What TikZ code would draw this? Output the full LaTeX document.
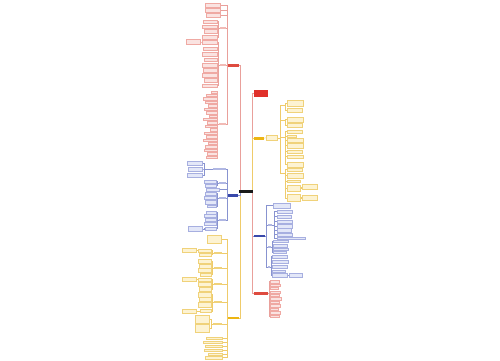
\documentclass[tikz,border=0pt]{standalone}
\definecolor{redM}{HTML}{DE4B3F}
\definecolor{redT}{HTML}{E0302A}
\definecolor{redL}{HTML}{E9A09B}
\definecolor{redB}{HTML}{EFA9A3}
\definecolor{redF}{HTML}{FAE3E1}
\definecolor{bluM}{HTML}{3949AB}
\definecolor{bluL}{HTML}{8893D0}
\definecolor{bluB}{HTML}{A7AFE0}
\definecolor{bluF}{HTML}{E3E7F8}
\definecolor{yelM}{HTML}{EDB512}
\definecolor{yelL}{HTML}{EFCB6A}
\definecolor{yelB}{HTML}{F0D27A}
\definecolor{yelF}{HTML}{FDF3D2}
\pgfdeclarelayer{bg}
\pgfsetlayers{bg,main}
\newcommand\lf[6]{\node[#2,minimum width={(#4-#3)*1pt},minimum height={(#6)*1pt}] (#1) at ({(#3+#4)/2},#5) {};}
\newcommand\conL[4]{\begin{pgfonlayer}{bg}\draw[#1] (#2.west) -- ++(-#4,0) |- (#3.east);\end{pgfonlayer}}
\newcommand\conR[4]{\begin{pgfonlayer}{bg}\draw[#1] (#2.east) -- ++(#4,0) |- (#3.west);\end{pgfonlayer}}
% parent, prefix, style, line, xr, gap, list y/h/xl
\newcommand\grpL[7]{\foreach \yy/\hh/\xl [count=\k] in {#7} {\lf{#2\k}{#3}{\xl}{#5}{\yy}{\hh}\conL{#4}{#1}{#2\k}{#6}}}
% parent, prefix, style, line, xl, gap, list y/h/xr
\newcommand\grpR[7]{\foreach \yy/\hh/\xr [count=\k] in {#7} {\lf{#2\k}{#3}{#5}{\xr}{\yy}{\hh}\conR{#4}{#1}{#2\k}{#6}}}
\begin{document}
\begin{tikzpicture}[x=1pt,y=-1pt,
  box/.style={rectangle,inner sep=0pt,outer sep=0pt,line width=0.25pt},
  lfR/.style={box,draw=redB,fill=redF},
  lfB/.style={box,draw=bluB,fill=bluF},
  lfY/.style={box,draw=yelB,fill=yelF},
  subR/.style={box,fill=redB!80},
  subB/.style={box,fill=bluB!90},
  subY/.style={box,fill=yelB},
  mnR/.style={box,fill=redM},
  mnB/.style={box,fill=bluM},
  mnY/.style={box,fill=yelM},
  lnR/.style={draw=redL,line width=0.35pt},
  lnB/.style={draw=bluL,line width=0.35pt},
  lnY/.style={draw=yelL,line width=0.35pt},
  trR/.style={draw=redL,line width=0.7pt},
  trB/.style={draw=bluL,line width=0.7pt},
  trY/.style={draw=yelL,line width=0.7pt}]
\begin{pgfonlayer}{bg}
\fill[white] (0,0) rectangle (500,360);
\end{pgfonlayer}
\useasboundingbox (0,0) rectangle (500,360);
% ---- main nodes
\node[box,fill=black!90,minimum width=14pt,minimum height=3.5pt] (C) at (246,191.5) {};
\node[box,fill=redT,minimum width=14pt,minimum height=7pt] (T) at (261,93.5) {};
\lf{L1}{mnR}{228}{239}{65.7}{3}
\lf{L2}{mnB}{228}{238}{195.2}{2.8}
\lf{L3}{mnY}{228}{239}{318}{2.6}
\lf{R1}{mnY}{254}{264}{138.2}{2.8}
\lf{R1a}{lfY}{266}{277}{137.8}{4.5}
\lf{R2}{mnB}{254}{265}{236}{2.5}
\lf{R3}{mnR}{254}{268}{293.5}{2.5}
\begin{pgfonlayer}{bg}
\draw[trR] ([xshift=1pt]C.west) |- (L1.east);
\draw[trY] ([xshift=1pt]C.west) |- (L3.east);
\draw[trB] ([xshift=1pt]C.west) |- (L2.east);
\draw[trR] ([xshift=-1pt]C.east) |- (T.west);
\draw[trY] ([xshift=-1pt]C.east) |- (R1.west);
\draw[trB] ([xshift=-1pt]C.east) |- (R2.west);
\draw[trR] ([xshift=-1pt]C.east) |- (R3.west);
\draw[lnY] (R1.east) -- (R1a.west);
\end{pgfonlayer}
% ---- L1 (red, left)
\grpL{L1}{rA}{lfR}{lnR}{220}{1}{5/4.5/205, 10/4.5/205, 15.5/4/206}
\lf{sB}{subR}{220}{226}{28}{1.6}\conL{lnR}{L1}{sB}{1}
\grpL{sB}{rB}{lfR}{lnR}{217}{1.5}{21.5/3/203, 26.5/3/202, 31/3.5/204, 37/3.5/202}
\lf{sC}{subR}{220}{226}{65}{1.6}\conL{lnR}{L1}{sC}{1}
\grpL{sC}{rC}{lfR}{lnR}{217}{1.5}{42/4/202, 48.5/3.5/203, 54/3.5/202, 59.5/3.5/204, 65/3.5/202, 70/3.5/203, 75/3.5/202, 80/3.5/204, 85.5/3.5/202}
\lf{rCx}{lfR}{186}{200}{42}{5}\conL{lnR}{rC1}{rCx}{1}
\lf{sD}{subR}{219}{226}{124}{1.6}\conL{lnR}{L1}{sD}{1}
\grpL{sD}{rD}{lfR}{lnR}{217}{1.5}{92/2.4/211, 95.4/2.4/206, 98.8/2.4/203, 102.3/2.4/205, 105.7/2.4/208, 109.1/2.4/204, 112.5/2.4/206, 115.9/2.4/209, 119.4/2.4/203, 122.8/2.4/207, 126.2/2.4/205, 129.6/2.4/210, 133/2.4/204, 136.5/2.4/206, 139.9/2.4/203, 143.3/2.4/208, 146.7/2.4/205, 150.1/2.4/204, 153.6/2.4/207, 157/2.4/206}
% ---- L2 (blue, left)
\lf{b1}{subB}{213}{226}{169}{1.6}\conL{lnB}{L2}{b1}{1}
\grpL{b1}{bA}{lfB}{lnB}{202}{9}{163/4/187, 169/3.5/188, 175/4.5/187}
\lf{b2}{subB}{219}{226}{183}{1.6}\conL{lnB}{L2}{b2}{1}
\grpL{b2}{bB}{lfB}{lnB}{216}{1.5}{181.5/3.5/204, 185.5/3.5/205}
\lf{b3}{lfB}{206}{219}{189.5}{2.5}\conL{lnB}{L2}{b3}{1}
\lf{b4}{subB}{219}{226}{198}{1.6}\conL{lnB}{L2}{b4}{1}
\grpL{b4}{bD}{lfB}{lnB}{216}{1.5}{193.5/3/205, 197.5/3.5/204, 202/4/205, 206/2.5/207}
\lf{b5}{subB}{219}{226}{220}{1.6}\conL{lnB}{L2}{b5}{1}
\grpL{b5}{bE}{lfB}{lnB}{216}{1.5}{212.5/2.5/206, 216/3/204, 219.5/3/205, 223.5/3/204, 228.5/3.5/205}
\lf{bEx}{lfB}{188}{202}{229}{5}\conL{lnB}{bE5}{bEx}{1}
% ---- L3 (yellow, left)
\lf{y0}{lfY}{207}{221}{239}{8}\conL{lnY}{L3}{y0}{1}
\lf{y1}{subY}{214}{222}{253}{1.6}\conL{lnY}{L3}{y1}{1}
\grpL{y1}{yA}{lfY}{lnY}{211}{1.5}{250.5/3/198, 254.5/3/199}
\lf{yAx}{lfY}{182}{196}{250.5}{4}\conL{lnY}{yA1}{yAx}{1}
\lf{y2}{subY}{214}{222}{268}{1.6}\conL{lnY}{L3}{y2}{1}
\grpL{y2}{yB}{lfY}{lnY}{211}{1.5}{261.5/4/198, 266/3.5/199, 270.5/4/198, 274.5/3/200}
\lf{y3}{subY}{214}{222}{284}{1.6}\conL{lnY}{L3}{y3}{1}
\grpL{y3}{yC}{lfY}{lnY}{211}{1.5}{279.5/3.5/198, 284/4.5/198, 289/4/199}
\lf{yCx}{lfY}{182}{196}{279.5}{4}\conL{lnY}{yC1}{yCx}{1}
\lf{y4}{subY}{214}{222}{302}{1.6}\conL{lnY}{L3}{y4}{1}
\grpL{y4}{yD}{lfY}{lnY}{211}{1.5}{294.5/4.5/198, 299.5/4/199, 304.5/4.5/198, 311/3/200}
\lf{yDx}{lfY}{182}{196}{311}{4}\conL{lnY}{yD4}{yDx}{1}
\lf{y5}{subY}{213}{222}{324}{1.6}\conL{lnY}{L3}{y5}{1}
\grpL{y5}{yE}{lfY}{lnY}{209}{2}{319.5/8/195, 328.5/8/195}
\grpL{L3}{yF}{lfY}{lnY}{222}{1}{338/2.5/206, 342/2.5/203, 346/2.5/205, 350/2.5/204, 354/2.5/208, 357.5/2.5/205}
% ---- R1 (yellow, right)
\coordinate (j1) at (283,105);
\coordinate (j2) at (283,120);
\coordinate (j3) at (283,137);
\coordinate (j4) at (283,173);
\begin{pgfonlayer}{bg}
\foreach \j in {j1,j2,j3,j4} {\draw[lnY] (R1a.east) -- ++(3,0) |- (\j);}
\end{pgfonlayer}
\grpR{j1}{gA}{lfY}{lnY}{287}{2}{103.5/6/303, 110/3.5/302}
\grpR{j2}{gB}{lfY}{lnY}{287}{2}{119.5/4.5/303, 125/3.5/302}
\grpR{j3}{gC}{lfY}{lnY}{287}{2}{131.5/3/302, 136/2/296, 140/3.5/303, 145.5/4.5/303, 151.5/3/302, 156.5/3/303, 164.5/4.5/303}
\grpR{j4}{gD}{lfY}{lnY}{287}{2}{169.5/3/302, 175.5/4.5/303, 181/2.5/300, 188.5/6/300, 198/7/300}
\lf{k1}{lfY}{302}{317}{187}{5}\conR{lnY}{gD4}{k1}{1}
\lf{k2}{lfY}{302}{317}{197.5}{5}\conR{lnY}{gD5}{k2}{1}
% ---- R2 (blue, right)
\grpR{R2}{p}{lfB}{lnB}{273}{1.5}{205.5/5/290}
\lf{q2}{subB}{268}{272}{225}{1.6}\conR{lnB}{R2}{q2}{1.5}
\grpR{q2}{qB}{lfB}{lnB}{277}{2.5}{211.5/3/292, 216.5/3/291, 221.5/3/292, 226/3.5/292, 230/3.5/291, 234.5/3/292, 238/2.5/305}
\lf{q3}{subB}{268}{271}{247}{1.6}\conR{lnB}{R2}{q3}{1.5}
\grpR{q3}{qC}{lfB}{lnB}{273}{1}{241/2.2/288, 245.5/2.5/287, 249/2.2/288, 252/2.2/286}
\lf{q4}{subB}{268}{270}{267}{1.6}\conR{lnB}{R2}{q4}{1.5}
\grpR{q4}{qD}{lfB}{lnB}{272}{1}{256.5/3/287, 261.5/3.5/288, 266.5/3/287, 271/2.5/285, 275/3.5/287}
\lf{qDx}{lfB}{289}{302}{275}{3.5}\conR{lnB}{qD5}{qDx}{1}
% ---- R3 (red, right)
\grpR{R3}{m}{lfR}{lnR}{270}{1}{281.5/2.4/279, 284.95/2.4/280, 288.4/2.4/278, 291.85/2.4/280, 295.3/2.4/279, 298.75/2.4/281, 302.2/2.4/279, 305.65/2.4/280, 309.1/2.4/278, 312.55/2.4/280, 316/2.4/279}
\end{tikzpicture}
\end{document}
